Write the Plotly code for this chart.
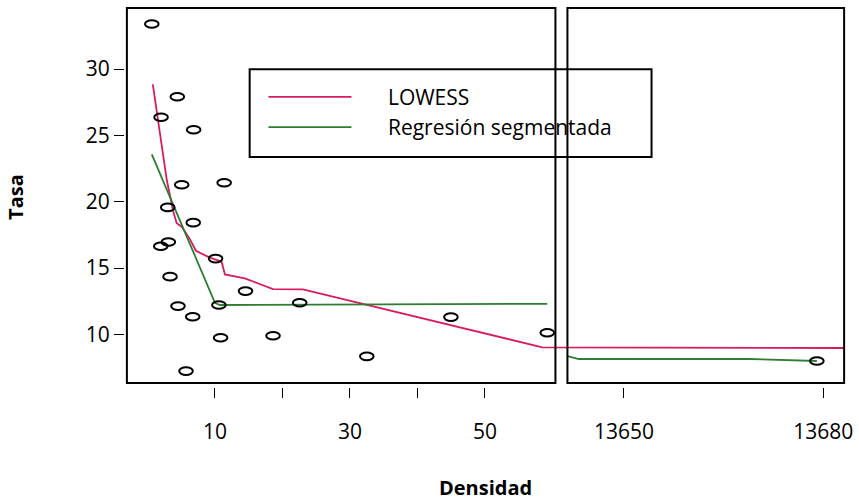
import plotly.graph_objects as go

# ---------------- data ----------------
dens = [0.65, 4.43, 2.02, 6.85, 5.08, 11.37, 3.01, 6.79, 3.10, 1.98, 10.10, 3.35,
        14.53, 4.53, 10.59, 22.56, 6.71, 10.84, 18.61, 5.72, 44.96, 32.50, 59.23, 13679.05]
tasa = [33.39, 27.91, 26.36, 25.42, 21.28, 21.43, 19.57, 18.42, 16.96, 16.64, 15.71, 14.35,
        13.26, 12.13, 12.21, 12.38, 11.33, 9.74, 9.89, 7.23, 11.30, 8.34, 10.12, 7.99]

lowess_x = [0.80, 2.87, 3.84, 4.34, 5.08, 6.31, 7.19, 9.16, 10.99, 11.48, 14.43, 18.61,
            23.04, 58.49, 13683.15]
lowess_y = [28.85, 21.63, 19.24, 18.37, 18.11, 17.16, 16.30, 15.80, 15.47, 14.52, 14.22,
            13.41, 13.39, 9.02, 8.97]

seg_left_x = [0.65, 10.00, 10.74, 59.23]
seg_left_y = [23.57, 12.38, 12.21, 12.30]
seg_right_x = [13641.5, 13643.2, 13668.75, 13679.05]
seg_right_y = [8.36, 8.14, 8.14, 7.99]

y_ticks = [10, 15, 20, 25, 30]
x_ticks = [10, 20, 30, 40, 50, 13650, 13680]
x_ticklabels = ["10", "", "30", "", "50", "13650", "13680"]

# ---------------- broken x axis ----------------
LEFT_LIM = (-3.04, 60.44)
RIGHT_LIM = (13641.5, 13683.15)
GAP_U = 1.78
RIGHT_SCALE = 0.984
Y_LIM = (6.33, 34.6)


def to_u(x):
    if x < 1000:
        return x
    return LEFT_LIM[1] + GAP_U + (x - RIGHT_LIM[0]) * RIGHT_SCALE


def tu(xs):
    return [to_u(v) for v in xs]


RED = "#D81B60"
GREEN = "#2E7D32"
FONT = "Open Sans"
SP = "\u2002\u2002\u2002"

fig = go.Figure()
fig.add_trace(go.Scatter(x=tu(lowess_x), y=lowess_y, mode="lines", name=SP + "LOWESS",
                         legendgroup="a", line=dict(color=RED, width=1.8)))
fig.add_trace(go.Scatter(x=tu(seg_left_x), y=seg_left_y, mode="lines",
                         name=SP + "Regresión segmentada", legendgroup="b",
                         line=dict(color=GREEN, width=1.8)))
fig.add_trace(go.Scatter(x=tu(seg_right_x), y=seg_right_y, mode="lines",
                         name="Regresión segmentada", legendgroup="b", showlegend=False,
                         line=dict(color=GREEN, width=1.8)))

shapes = []
# open ellipses for observations
for xv, yv in zip(dens, tasa):
    shapes.append(dict(type="circle", xref="x", yref="y", xsizemode="pixel",
                       ysizemode="pixel", xanchor=to_u(xv), yanchor=yv,
                       x0=-6.8, x1=6.8, y0=-3.8, y1=3.8,
                       line=dict(color="black", width=2)))
# panel boxes
for lo, hi in (LEFT_LIM, RIGHT_LIM):
    shapes.append(dict(type="rect", xref="x", yref="y", x0=to_u(lo), x1=to_u(hi),
                       y0=Y_LIM[0], y1=Y_LIM[1], line=dict(color="black", width=2)))
# legend box
shapes.append(dict(type="rect", xref="paper", yref="paper", x0=0.1729, x1=0.7303,
                   y0=0.6037, y1=0.8339, line=dict(color="black", width=2)))

pad = 0.28
fig.update_layout(
    width=859, height=503,
    margin=dict(l=125, r=11, t=6, b=116),
    paper_bgcolor="white", plot_bgcolor="white",
    font=dict(family=FONT, size=21, color="black"),
    shapes=shapes,
    showlegend=True,
    legend=dict(x=0.192, y=0.8145, xanchor="left", yanchor="top",
                bgcolor="rgba(0,0,0,0)", borderwidth=0, itemwidth=83,
                tracegroupgap=0, font=dict(family=FONT, size=21)),
    xaxis=dict(range=[LEFT_LIM[0] - pad, to_u(RIGHT_LIM[1]) + pad],
               showgrid=False, zeroline=False, showline=False,
               ticks="outside", ticklen=10, tickwidth=1, tickcolor="black",
               tickvals=tu(x_ticks), ticktext=x_ticklabels,
               ticklabelstandoff=16),
    yaxis=dict(range=[6.03, 34.75], showgrid=False, zeroline=False, showline=False,
               ticks="outside", ticklen=10, tickwidth=1, tickcolor="black",
               tickvals=y_ticks, ticktext=[str(v) for v in y_ticks],
               ticklabelstandoff=0),
    annotations=[
        dict(text="<b>Densidad</b>", xref="paper", yref="paper", x=0.5, y=-0.265,
             xanchor="center", yanchor="middle", showarrow=False,
             font=dict(family=FONT, size=20)),
        dict(text="<b>Tasa</b>", xref="paper", yref="paper", x=-0.152, y=0.5,
             xanchor="center", yanchor="middle", textangle=-90, showarrow=False,
             font=dict(family=FONT, size=20)),
    ],
)

fig.write_html("out.html", config={"displayModeBar": False},
               post_script="document.body.style.margin='0';")
